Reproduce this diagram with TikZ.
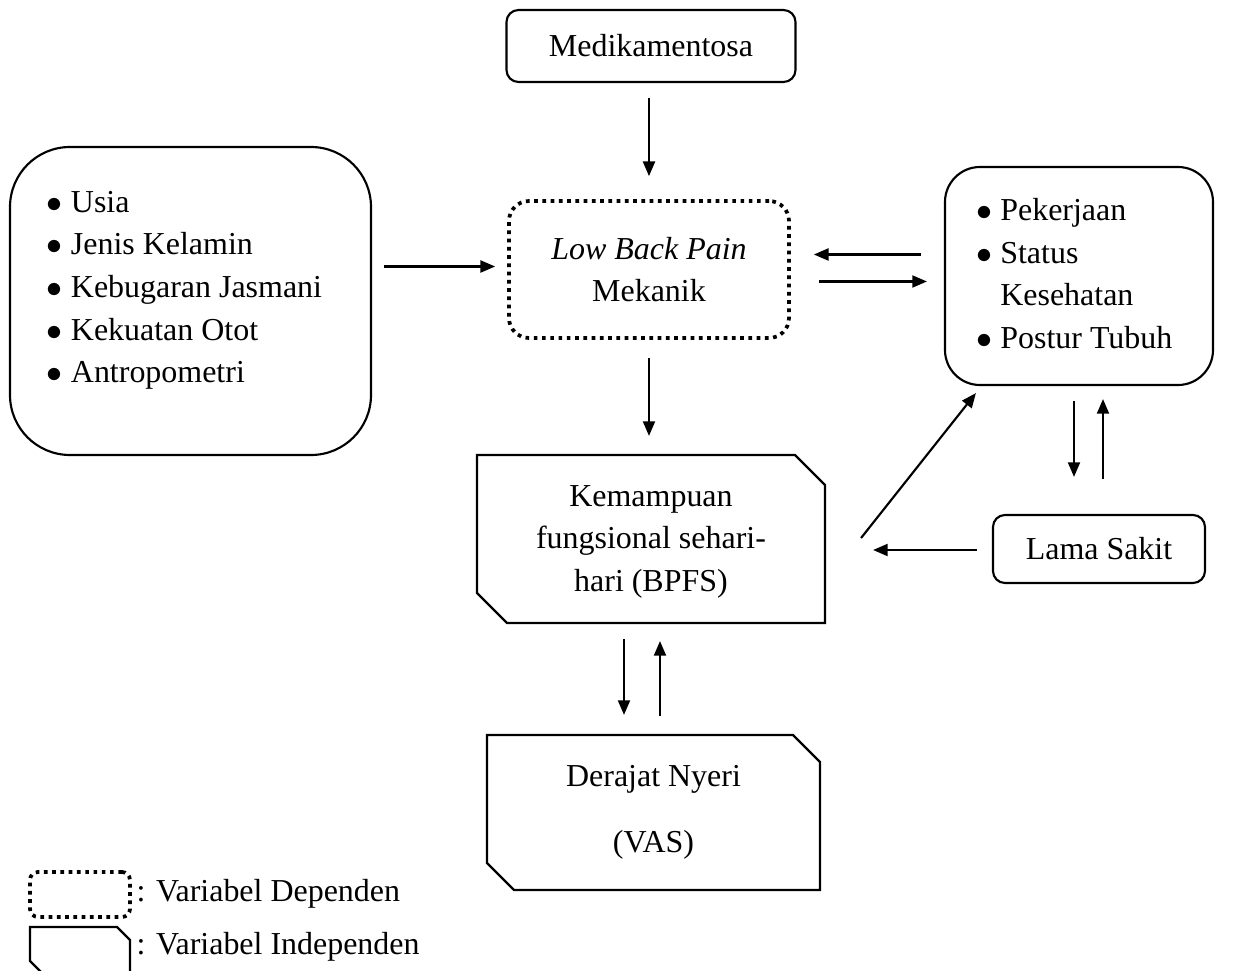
\documentclass[tikz,border=0pt]{standalone}
\usepackage{fontspec}
\setmainfont{Liberation Serif}
\usetikzlibrary{arrows.meta,calc,shapes.misc}
\def\pu{0.0132cm}

\begin{document}
\begin{tikzpicture}[x=\pu, y=-\pu, font=\fontsize{12pt}{16pt}\selectfont,
    box/.style={draw, line width=0.8pt, align=center, inner sep=0pt},
    roundbox/.style={box, rounded corners=#1*\pu},
    depbox/.style={draw, line width=1.4pt, dash pattern=on 1.4pt off 1.7pt,
      align=center, inner sep=0pt, rounded corners=#1*\pu},
    cutbox/.style={box, chamfered rectangle,
      chamfered rectangle corners={north east,south west},
      chamfered rectangle sep=#1*\pu/2},
    arr/.style={line width=0.8pt, -{Triangle[length=5.5pt,width=4.5pt]}}]
  \clip (0,0) rectangle (1248,971);

  %%%%% boxes %%%%%
  \node[roundbox=12, minimum width=289*\pu, minimum height=72*\pu] (medik) at (651,46) {Medikamentosa};

  \node[depbox=20, minimum width=280*\pu, minimum height=137*\pu] (lbp) at (649,269.5)
    {\textit{Low Back Pain}\\Mekanik};

  \node[roundbox=60, minimum width=361*\pu, minimum height=308*\pu] (faktor) at (190.5,301)
    {\begin{tabular}{@{}l@{\hspace{3pt}}l@{\hspace{4.5pt}}}
      $\bullet$ & Usia\\
      $\bullet$ & Jenis Kelamin\\
      $\bullet$ & Kebugaran Jasmani\\
      $\bullet$ & Kekuatan Otot\\
      $\bullet$ & Antropometri\\[9pt]
    \end{tabular}};

  \node[roundbox=35, minimum width=268*\pu, minimum height=218*\pu] (kerja) at (1079,276)
    {\begin{tabular}{@{}l@{\hspace{3pt}}l@{\hspace{3.5pt}}}
      $\bullet$ & Pekerjaan\\
      $\bullet$ & Status\\
                & Kesehatan\\
      $\bullet$ & Postur Tubuh
    \end{tabular}};

  \node[cutbox=30, minimum width=348*\pu, minimum height=168*\pu] (bpfs) at (651,539)
    {\\[-6pt]Kemampuan\\fungsional sehari-\\hari (BPFS)};

  \node[roundbox=12, minimum width=212*\pu, minimum height=68*\pu] (lama) at (1099,549) {Lama Sakit};

  \node[cutbox=27, minimum width=333*\pu, minimum height=155*\pu] (vas) at (653.5,812.5)
    {Derajat Nyeri\\[9pt](VAS)};

  %%%%% arrows %%%%%
  \draw[arr] ($(medik.south)+(-2,15)$) -- ($(lbp.north)+(0,-23)$);
  \draw[arr] ($(faktor.east |- lbp.west)+(12,-3)$) -- ($(lbp.west)+(-12,-3)$);
  \draw[arr] ($(kerja.west |- lbp.east)+(-23,-15)$) -- ($(lbp.east)+(23,-15)$);
  \draw[arr] ($(lbp.east)+(28,12)$) -- ($(kerja.west |- lbp.east)+(-17,12)$);
  \draw[arr] ($(lbp.south)+(0,18)$) -- ($(bpfs.north)+(-2,-18)$);

  \draw[arr] ($(kerja.south)+(-5,15)$) -- ($(kerja.south |- lama.north)+(-5,-37)$);
  \draw[arr] ($(kerja.south |- lama.north)+(24,-35)$) -- ($(kerja.south)+(24,13)$);
  \draw[arr] ($(lama.west)+(-15,1)$) -- ($(bpfs.east |- lama.west)+(47,1)$);
  \draw[arr] ($(bpfs.east)+(35,-1)$) -- ($(kerja.south west)+(32,7)$);

  \draw[arr] ($(bpfs.south)+(-27,15)$) -- ($(bpfs.south |- vas.north)+(-27,-19)$);
  \draw[arr] ($(bpfs.south |- vas.north)+(9,-18)$) -- ($(bpfs.south)+(9,17)$);

  %%%%% legend %%%%%
  \node[depbox=8, minimum width=100*\pu, minimum height=45*\pu] (ldep) at (80,894.5) {};
  \node[anchor=west, inner sep=0pt] (tdep) at (136,894) {: Variabel Dependen};
  \node[cutbox=13, minimum width=100*\pu, minimum height=47*\pu,
    text width=60*\pu, text height=20*\pu, text depth=0pt] (lind) at (80,950.5) {};
  \node[anchor=west, inner sep=0pt] (tind) at (136,947) {: Variabel Independen};
\end{tikzpicture}
\end{document}
